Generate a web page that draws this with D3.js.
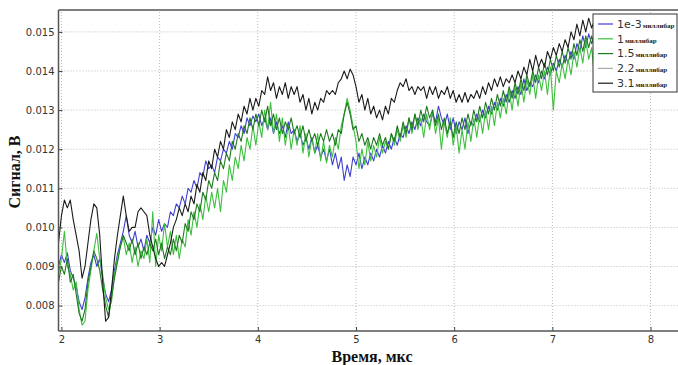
<!DOCTYPE html>
<html>
<head>
<meta charset="utf-8">
<script src="https://d3js.org/d3.v7.min.js"></script>
<style>
    body { margin: 0; background: #fff; }
    svg { display: block; }
    .tick text { font-family: "DejaVu Sans", sans-serif; font-size: 10px; fill: #333; }
    .tick line { stroke: #444; }
    .grid line { stroke: #bbb; stroke-dasharray: 1,2; }
    .title { font-family: "Liberation Serif", serif; font-weight: bold; font-size: 16px; fill: #111; }
</style>
</head>
<body>
<svg id="chart" width="678" height="365"></svg>
<script>
"use strict"

// sampling of the traces, µs
const t0 = 1.97;
const dt = 0.03;

const xTicks = [2, 3, 4, 5, 6, 7, 8];
const yTicks = [0.008, 0.009, 0.010, 0.011, 0.012, 0.013, 0.014, 0.015];

const names = ["1e-3", "1", "1.5", "2.2", "3.1"];
const colors = ["#4040d0", "#3cc03c", "#1f7a1f", "#aaaaaa", "#1a1a1a"];

// signal, mV
const sig1e3 = [
    9.0, 9.3, 9.1, 9.35, 8.9, 8.7, 8.5, 8.1, 7.9, 8.2,
    8.7, 9.1, 9.3, 9.0, 9.2, 8.7, 8.3, 8.1, 8.4, 8.9,
    9.3, 9.6, 9.9, 10.3, 9.8, 9.6, 9.9, 9.5, 9.7, 9.4,
    9.8, 9.6, 10.0, 9.8, 10.2, 9.9, 10.1, 10.0, 10.4, 10.3,
    10.6, 10.5, 10.8, 10.6, 11.0, 10.9, 11.2, 11.0, 11.4, 11.3,
    11.7, 11.5, 11.6, 11.4, 11.8, 11.7, 12.0, 11.9, 12.2, 12.0,
    12.4, 12.3, 12.6, 12.4, 12.8, 12.6, 12.85, 12.7, 12.9, 12.6,
    12.8, 12.5, 12.8, 12.4, 12.7, 12.4, 12.6, 12.3, 12.7, 12.4,
    12.5, 12.2, 12.4, 12.1, 12.3, 12.0, 12.3, 11.9, 12.1, 11.8,
    12.0, 11.7, 12.0, 11.6, 11.9, 11.5, 11.8, 11.2, 11.6, 11.3,
    11.8, 11.6, 11.9, 11.5, 11.8, 11.6, 11.9, 11.7, 12.0, 11.8,
    12.1, 11.9, 12.2, 12.0, 12.3, 12.1, 12.4, 12.3, 12.6, 12.4,
    12.7, 12.5, 12.8, 12.6, 12.9, 12.7, 12.6, 12.9, 12.7, 13.1,
    12.8, 12.6, 12.9, 12.5, 12.8, 12.4, 12.7, 12.5, 12.8, 12.4,
    12.7, 12.6, 12.9, 12.7, 13.0, 12.8, 13.1, 12.9, 13.2, 13.0,
    13.3, 13.1, 13.4, 13.2, 13.5, 13.3, 13.6, 13.4, 13.8, 13.5,
    13.7, 13.6, 13.9, 13.7, 14.0, 13.8, 14.1, 13.9, 14.2, 14.0,
    14.3, 14.1, 14.4, 14.2, 14.5, 14.3, 14.7, 14.5, 14.9, 14.6,
    14.95, 14.7, 14.9, 14.6, 14.8, 14.6, 14.9, 14.7, 14.9, 14.7
];

const sig1 = [
    8.8, 9.2, 9.9, 9.0, 8.8, 8.4, 8.6, 7.9, 7.5, 7.6,
    8.4, 8.9, 9.4, 9.85, 9.2, 8.8, 8.2, 7.9, 8.1, 8.8,
    9.2, 9.5, 9.75, 9.3, 9.6, 9.1, 9.5, 9.0, 9.4, 9.2,
    9.7, 9.1, 10.4, 9.0, 9.8, 9.4, 10.1, 9.5, 9.9, 9.3,
    9.8, 9.2, 9.7, 9.5, 10.2, 9.8, 10.4, 10.0, 10.6, 10.2,
    10.8, 10.4, 10.9, 10.5, 11.0, 10.4, 11.2, 10.9, 11.6, 11.2,
    11.8, 11.5, 12.1, 11.7, 12.3, 12.0, 12.6, 12.1, 12.7, 12.3,
    13.0, 12.5, 13.2, 12.4, 12.9, 12.2, 12.8, 12.1, 12.6, 12.0,
    12.5, 12.1, 12.6, 11.9, 12.4, 11.8, 12.3, 11.9, 12.4, 11.7,
    12.2, 11.65, 12.1, 11.8, 12.3, 12.0, 12.6, 12.9, 13.3, 13.0,
    12.6, 12.2, 11.5, 12.0, 11.6, 12.2, 11.7, 12.1, 11.8, 12.3,
    11.9, 12.2, 12.0, 12.4, 12.1, 12.5, 12.2, 12.6, 12.3, 12.8,
    12.4, 12.9, 12.5, 12.8, 12.3, 12.9, 12.5, 13.0, 12.4, 12.8,
    12.0, 12.7, 12.3, 12.8, 12.1, 12.6, 11.9, 12.5, 12.0, 12.7,
    12.2, 12.8, 12.3, 12.9, 12.4, 13.0, 12.5, 13.1, 12.6, 13.2,
    12.8, 13.3, 12.9, 13.5, 13.0, 13.6, 13.1, 13.7, 13.2, 13.8,
    13.4, 13.9, 13.3, 13.9, 13.5, 14.0, 13.4, 14.1, 13.0, 14.0,
    13.7, 14.2, 13.8, 14.3, 13.9, 14.5, 14.1, 14.6, 14.2, 14.8,
    14.3, 14.6, 13.8, 14.5, 14.2, 14.7, 14.4, 14.8, 14.5, 14.7
];

const sig15 = [
    8.6, 9.0, 8.8, 9.2, 8.6, 8.8, 8.3, 7.8, 7.6, 7.9,
    8.6, 9.0, 9.4, 9.2, 8.9, 8.4, 8.0, 7.7, 8.2, 8.7,
    9.1, 9.5, 9.8, 9.6, 9.4, 9.7, 9.3, 9.6, 9.2, 9.5,
    9.3, 9.6, 9.4, 9.7, 9.3, 9.6, 9.2, 9.5, 9.3, 9.7,
    9.4, 9.8, 9.6, 10.1, 9.9, 10.4, 10.2, 10.6, 10.4, 10.9,
    10.7, 11.2, 11.0, 11.4, 11.2, 11.7, 11.5, 11.9, 11.7, 12.2,
    12.0, 12.4, 12.2, 12.6, 12.4, 12.8, 12.5, 12.9, 12.6, 13.0,
    12.7, 13.1, 12.6, 12.9, 12.5, 12.8, 12.4, 12.7, 12.5, 12.8,
    12.4, 12.6, 12.3, 12.6, 12.2, 12.5, 12.2, 12.4, 12.1, 12.4,
    12.2, 12.5, 12.2, 12.4, 12.1, 12.5, 12.4, 12.9, 13.2, 12.9,
    12.5, 12.6, 12.2, 12.4, 12.1, 12.3, 12.0, 12.3, 12.1, 12.4,
    12.1, 12.3, 12.0, 12.4, 12.2, 12.6, 12.3, 12.7, 12.4, 12.8,
    12.5, 12.9, 12.6, 13.0, 12.7, 13.1, 12.8, 13.0, 12.6, 12.9,
    12.5, 12.8, 12.4, 12.7, 12.3, 12.7, 12.4, 12.8, 12.5, 12.9,
    12.6, 13.0, 12.7, 13.1, 12.8, 13.2, 12.9, 13.3, 13.0, 13.4,
    13.1, 13.5, 13.2, 13.6, 13.3, 13.7, 13.4, 13.8, 13.5, 13.9,
    13.6, 14.0, 13.7, 14.1, 13.8, 14.2, 13.9, 14.3, 14.0, 14.4,
    14.1, 14.5, 14.2, 14.6, 14.3, 14.7, 14.4, 14.8, 14.5, 14.9,
    14.6, 14.9, 14.6, 14.8, 14.5, 14.8, 14.6, 14.9, 14.6, 14.8
];

const sig31 = [
    9.6, 10.3, 10.7, 10.5, 10.7, 10.2, 9.8, 9.4, 8.7, 9.0,
    9.6, 10.2, 10.6, 10.5, 9.8, 8.6, 7.6, 7.7, 8.4, 9.2,
    9.8, 10.3, 10.8, 10.3, 9.9, 10.0, 10.0, 10.4, 10.5, 10.4,
    10.3, 9.8, 9.5, 9.2, 9.0, 9.1, 9.0, 9.3, 9.6, 10.0,
    10.2, 10.5, 10.3, 10.6, 10.4, 10.8, 10.6, 11.1, 10.9, 11.4,
    11.2, 11.7, 11.5, 12.0, 11.8, 12.2, 12.0, 12.5, 12.3, 12.7,
    12.5, 12.9, 12.7, 13.1, 12.9, 13.3, 13.0, 13.3, 13.1, 13.5,
    13.4, 13.85, 13.5, 13.7, 13.3, 13.6, 13.4, 13.7, 13.3, 13.6,
    13.4, 13.6, 13.2, 13.4, 13.0, 13.3, 12.9, 13.2, 13.0, 13.3,
    13.2, 13.5, 13.4, 13.5, 13.4, 13.7, 13.8, 14.0, 13.8, 14.05,
    13.9, 13.6, 13.2, 13.4, 13.0, 13.3, 12.9, 13.1, 12.8, 13.0,
    12.75, 13.1, 12.9, 13.3, 13.2, 13.5, 13.7, 13.6, 13.8, 13.5,
    13.6, 13.4, 13.6, 13.5, 13.6, 13.3, 13.6, 13.4, 13.6, 13.3,
    13.5, 13.4, 13.6, 13.3, 13.5, 13.2, 13.4, 13.2, 13.45, 13.2,
    13.4, 13.3, 13.5, 13.3, 13.6, 13.4, 13.7, 13.5, 13.8, 13.6,
    13.85, 13.6, 13.8, 13.7, 13.9, 13.7, 14.0, 13.8, 14.1, 13.9,
    14.3, 14.0, 14.4, 14.1, 14.3, 14.1, 14.5, 14.3, 14.6, 14.4,
    14.7, 14.5, 14.8, 14.6, 15.0, 14.8, 15.2, 14.9, 15.3, 15.0,
    15.35, 15.1, 15.3, 15.0, 15.2, 15.0, 15.3, 15.1, 15.3, 15.1
];

// 2.2 mbar trace is hidden under the others in the original, only its legend entry shows
const traces = [
    { name: names[0], color: colors[0], values: sig1e3 },
    { name: names[1], color: colors[1], values: sig1 },
    { name: names[2], color: colors[2], values: sig15 },
    { name: names[4], color: colors[4], values: sig31 }
];

const margin = { left: 58.5, top: 10, right: -2, bottom: 34 };
const W = 678, H = 365;

let svg = d3.select("#chart");

let x = d3.scaleLinear()
    .domain([1.97, 8.3])
    .range([margin.left, W - margin.right]);

let y = d3.scaleLinear()
    .domain([0.00735, 0.01556])
    .range([H - margin.bottom, margin.top]);

// grid
let grid = svg.append("g").attr("class", "grid");
grid.selectAll(".gx").data(xTicks).enter().append("line")
    .attr("x1", d => x(d)).attr("x2", d => x(d))
    .attr("y1", y.range()[0]).attr("y2", y.range()[1]);
grid.selectAll(".gy").data(yTicks).enter().append("line")
    .attr("x1", x.range()[0]).attr("x2", x.range()[1])
    .attr("y1", d => y(d)).attr("y2", d => y(d));

// traces
svg.append("clipPath").attr("id", "clip")
    .append("rect")
    .attr("x", x.range()[0]).attr("y", y.range()[1])
    .attr("width", x.range()[1] - x.range()[0])
    .attr("height", y.range()[0] - y.range()[1]);

let line = d3.line()
    .x((d, i) => x(t0 + i * dt))
    .y(d => y(d / 1000));

svg.append("g").attr("clip-path", "url(#clip)")
    .selectAll("path").data(traces).enter().append("path")
    .attr("d", d => line(d.values))
    .attr("fill", "none")
    .attr("stroke", d => d.color)
    .attr("stroke-width", 1.1)
    .attr("stroke-linejoin", "round");

// axes
let xAxis = d3.axisBottom(x).tickValues(xTicks).tickFormat(d3.format("d"))
    .tickSizeInner(-4).tickSizeOuter(0).tickPadding(5);
let yAxis = d3.axisLeft(y).tickValues(yTicks).tickFormat(d3.format(".3f"))
    .tickSizeInner(-4).tickSizeOuter(0).tickPadding(4);

svg.append("g").attr("transform", "translate(0," + y.range()[0] + ")").call(xAxis)
    .select(".domain").remove();
svg.append("g").attr("transform", "translate(" + x.range()[0] + ",0)").call(yAxis)
    .select(".domain").remove();

// spines
let spine = svg.append("g").attr("stroke", "#555").attr("stroke-width", 1.5);
spine.append("line")
    .attr("x1", x.range()[0]).attr("x2", x.range()[1])
    .attr("y1", y.range()[1]).attr("y2", y.range()[1]);
spine.append("line")
    .attr("x1", x.range()[0]).attr("x2", x.range()[1])
    .attr("y1", y.range()[0]).attr("y2", y.range()[0]);
spine.append("line")
    .attr("x1", x.range()[0]).attr("x2", x.range()[0])
    .attr("y1", y.range()[1]).attr("y2", y.range()[0]);

// axis titles
svg.append("text").attr("class", "title")
    .attr("x", 372).attr("y", 362)
    .attr("text-anchor", "middle")
    .text("Время, мкс");

svg.append("text").attr("class", "title")
    .attr("transform", "translate(20,172) rotate(-90)")
    .attr("text-anchor", "middle")
    .text("Сигнал, В");

// legend
let legend = svg.append("g").attr("transform", "translate(593,14)");
legend.append("rect")
    .attr("width", 84).attr("height", 78)
    .attr("fill", "#fff").attr("stroke", "#333").attr("stroke-width", 1);

let item = legend.selectAll(".item").data(names).enter().append("g")
    .attr("transform", (d, i) => "translate(0," + (10 + i * 14.8) + ")");
item.append("line")
    .attr("x1", 5).attr("x2", 20)
    .attr("stroke", (d, i) => colors[i]).attr("stroke-width", 1.2);
let label = item.append("text")
    .attr("x", 24).attr("dy", "0.35em")
    .style("font-family", "'DejaVu Sans', sans-serif")
    .style("font-size", "11px").style("fill", "#333");
label.append("tspan").text(d => d);
label.append("tspan")
    .attr("dx", 1)
    .style("font-family", "'Liberation Serif', serif")
    .style("font-weight", "bold").style("font-size", "7px").style("fill", "#222")
    .text("миллибар");
</script>
</body>
</html>
